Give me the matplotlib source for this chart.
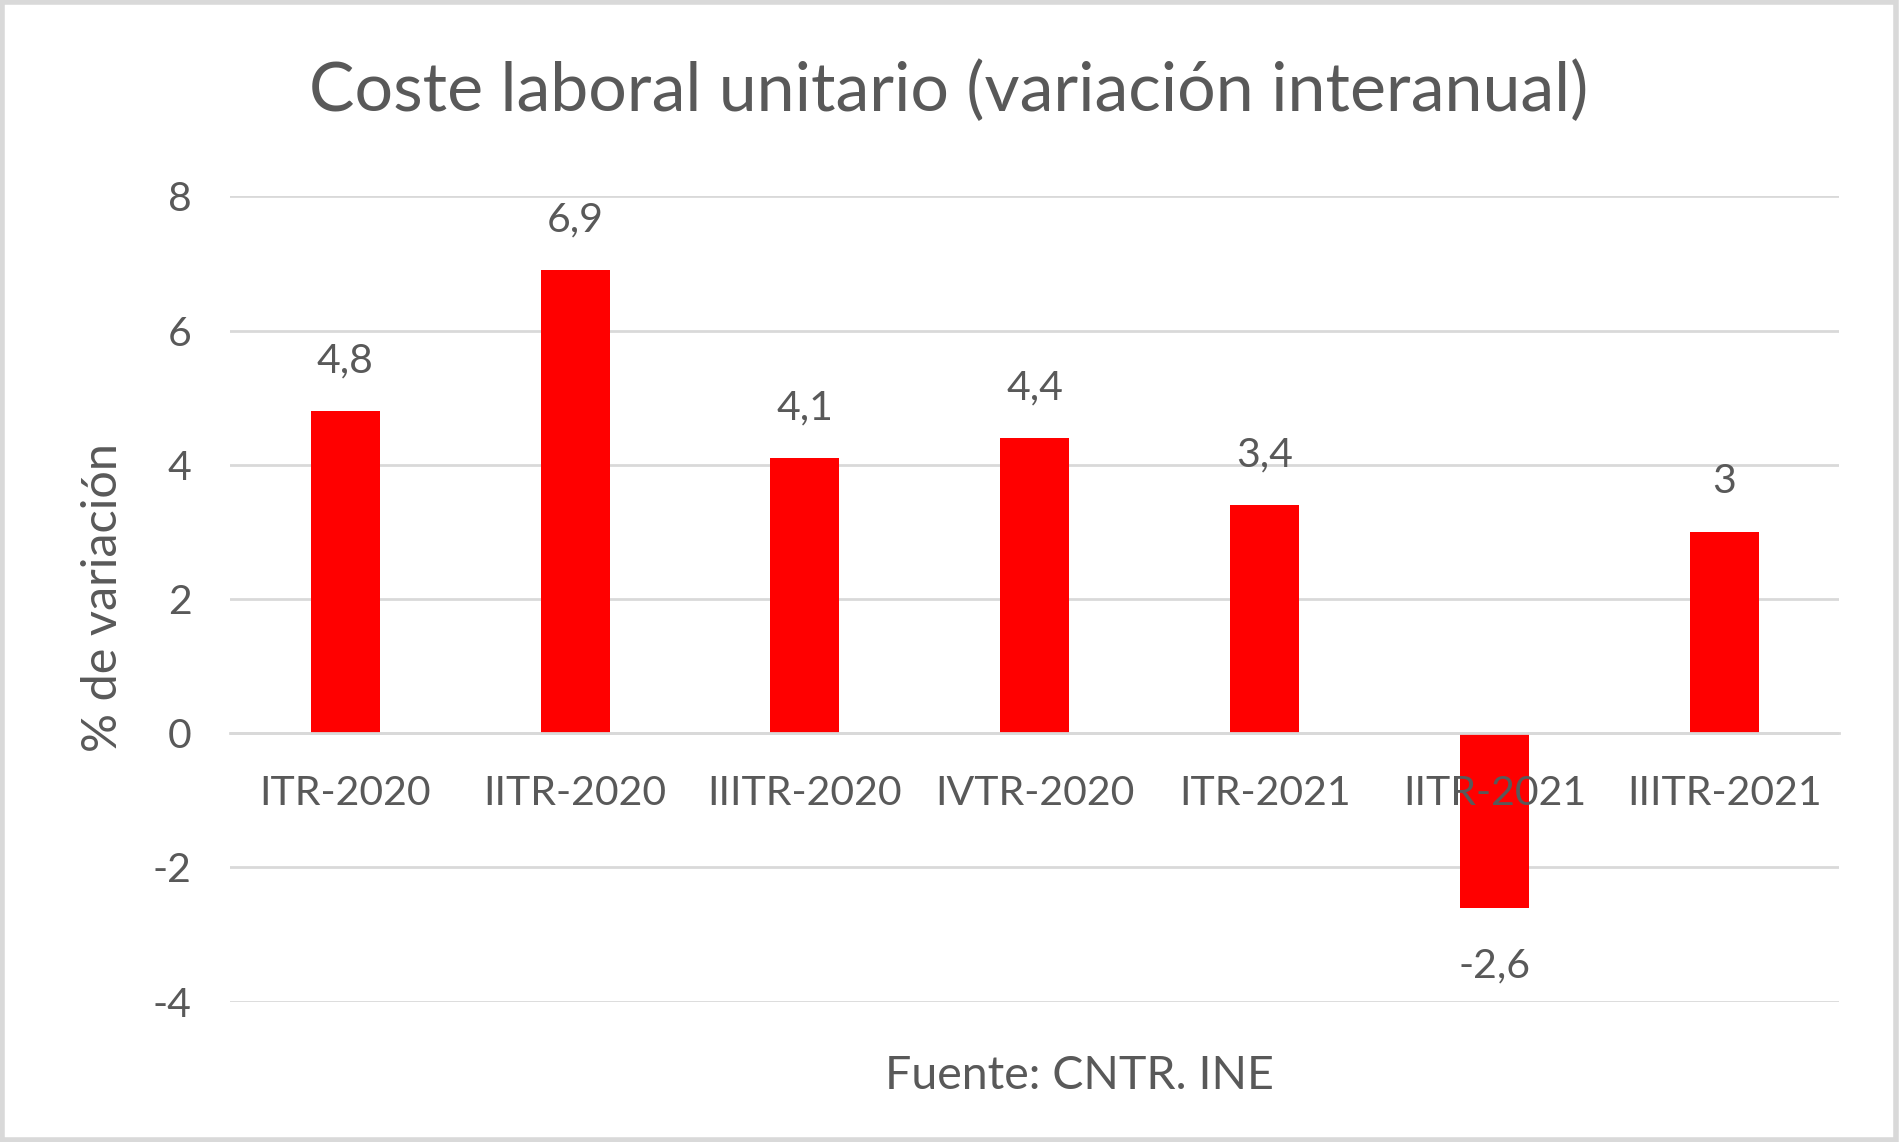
import matplotlib
matplotlib.use("Agg")
import matplotlib.pyplot as plt
from matplotlib.patches import Rectangle

plt.rcParams['font.family'] = ['Lato', 'DejaVu Sans']

# datos
trimestres = ["ITR-2020", "IITR-2020", "IIITR-2020", "IVTR-2020",
              "ITR-2021", "IITR-2021", "IIITR-2021"]
variacion = [4.8, 6.9, 4.1, 4.4, 3.4, -2.6, 3.0]
etiquetas = ["4,8", "6,9", "4,1", "4,4", "3,4", "-2,6", "3"]
yticks = [-4, -2, 0, 2, 4, 6, 8]

GRIS_TXT = "#595959"
GRIS_GRID = "#D9D9D9"
ROJO = "#FF0000"

fig = plt.figure(figsize=(19, 11.42), dpi=100)
ax = fig.add_axes([0.1212, 0.123, 0.968 - 0.1212, 0.828 - 0.123])

x = list(range(len(trimestres)))
ax.bar(x, variacion, width=0.30, color=ROJO, zorder=3)

ax.set_xlim(-0.5, len(trimestres) - 0.5)
ax.set_ylim(-4, 8)
ax.set_yticks(yticks)
ax.set_yticklabels([str(v) for v in yticks])
ax.yaxis.grid(True, color=GRIS_GRID, linewidth=2.0)
ax.set_axisbelow(True)

ax.set_xticks(x)
ax.set_xticklabels(trimestres)
ax.xaxis.set_zorder(5)  # etiquetas por encima de la barra negativa
for s in ["top", "right", "left"]:
    ax.spines[s].set_visible(False)
ax.spines["bottom"].set_position(("data", 0))
ax.spines["bottom"].set_color(GRIS_GRID)
ax.spines["bottom"].set_linewidth(2.0)
ax.spines["bottom"].set_zorder(4)

ax.tick_params(axis="x", length=0, pad=30, labelsize=29.5, labelcolor=GRIS_TXT)
ax.tick_params(axis="y", length=0, pad=28, labelsize=29.5, labelcolor=GRIS_TXT)

# etiquetas de datos
for xi, v, lab in zip(x, variacion, etiquetas):
    off = 36 if v >= 0 else -42
    ax.annotate(lab, (xi, v), xytext=(0, off), textcoords="offset points",
                ha="center", va="center", fontsize=29.5, color=GRIS_TXT)

fig.text(0.4994, 0.920, "Coste laboral unitario (variación interanual)",
         ha="center", va="center", fontsize=49, color=GRIS_TXT)
fig.text(0.054, 0.477, "% de variación", rotation=90,
         ha="center", va="center", fontsize=35, color=GRIS_TXT)
fig.text(0.568, 0.058, "Fuente: CNTR. INE",
         ha="center", va="center", fontsize=33.5, color=GRIS_TXT)

fig.patches.append(Rectangle((0.001, 0.002), 0.997, 0.996, transform=fig.transFigure,
                             fill=False, edgecolor=GRIS_GRID, linewidth=4))

fig.savefig("out.png", dpi=100, facecolor="white")
